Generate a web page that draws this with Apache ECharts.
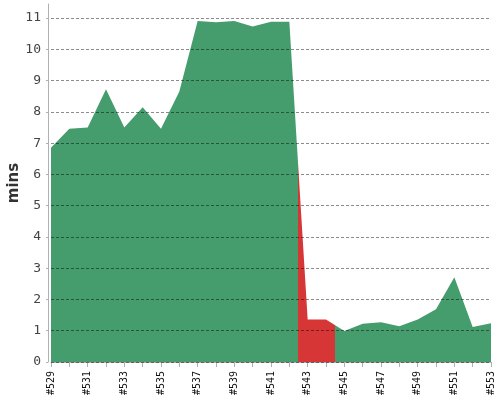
<!DOCTYPE html>
<html>
<head>
<meta charset="utf-8">
<script src="https://cdn.jsdelivr.net/npm/echarts@6/dist/echarts.min.js"></script>
<style>html,body{margin:0;padding:0;background:#fff;}#c{width:500px;height:400px;}</style>
</head>
<body>
<div id="c"></div>
<script>
var builds = [529,530,531,532,533,534,535,536,537,538,539,540,541,542,543,544,545,546,547,548,549,550,551,552,553];
var durations = [6.85,7.46,7.50,8.72,7.50,8.15,7.46,8.65,10.91,10.87,10.91,10.73,10.88,10.88,1.36,1.36,0.99,1.22,1.27,1.14,1.36,1.69,2.71,1.12,1.24];
var statuses = ['ok','ok','ok','ok','ok','ok','ok','ok','ok','ok','ok','ok','ok','ok','fail','fail','ok','ok','ok','ok','ok','ok','ok','ok','ok'];
var yTicks = [0,1,2,3,4,5,6,7,8,9,10,11];

var GREEN = '#459c6c', RED = '#d63636';
var pieces = statuses.map(function (s, i) {
  return { gte: builds[i] - 0.5, lt: builds[i] + 0.5, color: s === 'fail' ? RED : GREEN };
});
var seriesData = builds.map(function (b, i) { return [b, durations[i]]; });

var chart = echarts.init(document.getElementById('c'));
chart.setOption({
  animation: false,
  grid: { left: 51, right: 9, top: 4, bottom: 38, containLabel: false, outerBoundsMode: 'none' },
  visualMap: { type: 'piecewise', show: false, dimension: 0, pieces: pieces, seriesIndex: 0 },
  xAxis: {
    type: 'value',
    min: builds[0],
    max: builds[builds.length - 1],
    interval: 1,
    offset: 2,
    axisLine: { lineStyle: { color: '#b0b0b0', width: 1 } },
    axisTick: { show: true, length: 5, lineStyle: { color: '#b0b0b0' } },
    axisLabel: {
      rotate: 90, fontSize: 10, fontFamily: 'DejaVu Sans Mono', color: '#111', margin: 7,
      showMinLabel: true, showMaxLabel: true,
      formatter: function (v) { return (v - builds[0]) % 2 === 0 ? '#' + v : ''; }
    },
    splitLine: { show: false }
  },
  yAxis: {
    type: 'value',
    min: 0,
    max: 11.45,
    interval: 1,
    offset: 3,
    z: 5,
    name: 'mins',
    nameLocation: 'middle',
    nameGap: 26,
    nameMoveOverlap: false,
    nameTextStyle: { fontSize: 15, fontWeight: 'bold', fontFamily: 'DejaVu Sans', color: '#333' },
    axisLine: { show: true, lineStyle: { color: '#b0b0b0', width: 1 } },
    axisTick: { show: true, length: 2, lineStyle: { color: '#b0b0b0' } },
    axisLabel: {
      fontSize: 13, fontFamily: 'DejaVu Sans Mono', color: '#444', margin: 7,
      showMaxLabel: false,
      formatter: function (v) { return yTicks.indexOf(v) >= 0 ? String(v) : ''; }
    },
    splitLine: { show: true, showMaxLine: false, lineStyle: { color: 'rgba(0,0,0,0.45)', type: [3, 2], width: 1 } }
  },
  series: [{
    type: 'line',
    data: seriesData,
    showSymbol: false,
    symbol: 'none',
    lineStyle: { width: 0 },
    areaStyle: { opacity: 1 },
    z: 2
  }]
});
</script>
</body>
</html>
